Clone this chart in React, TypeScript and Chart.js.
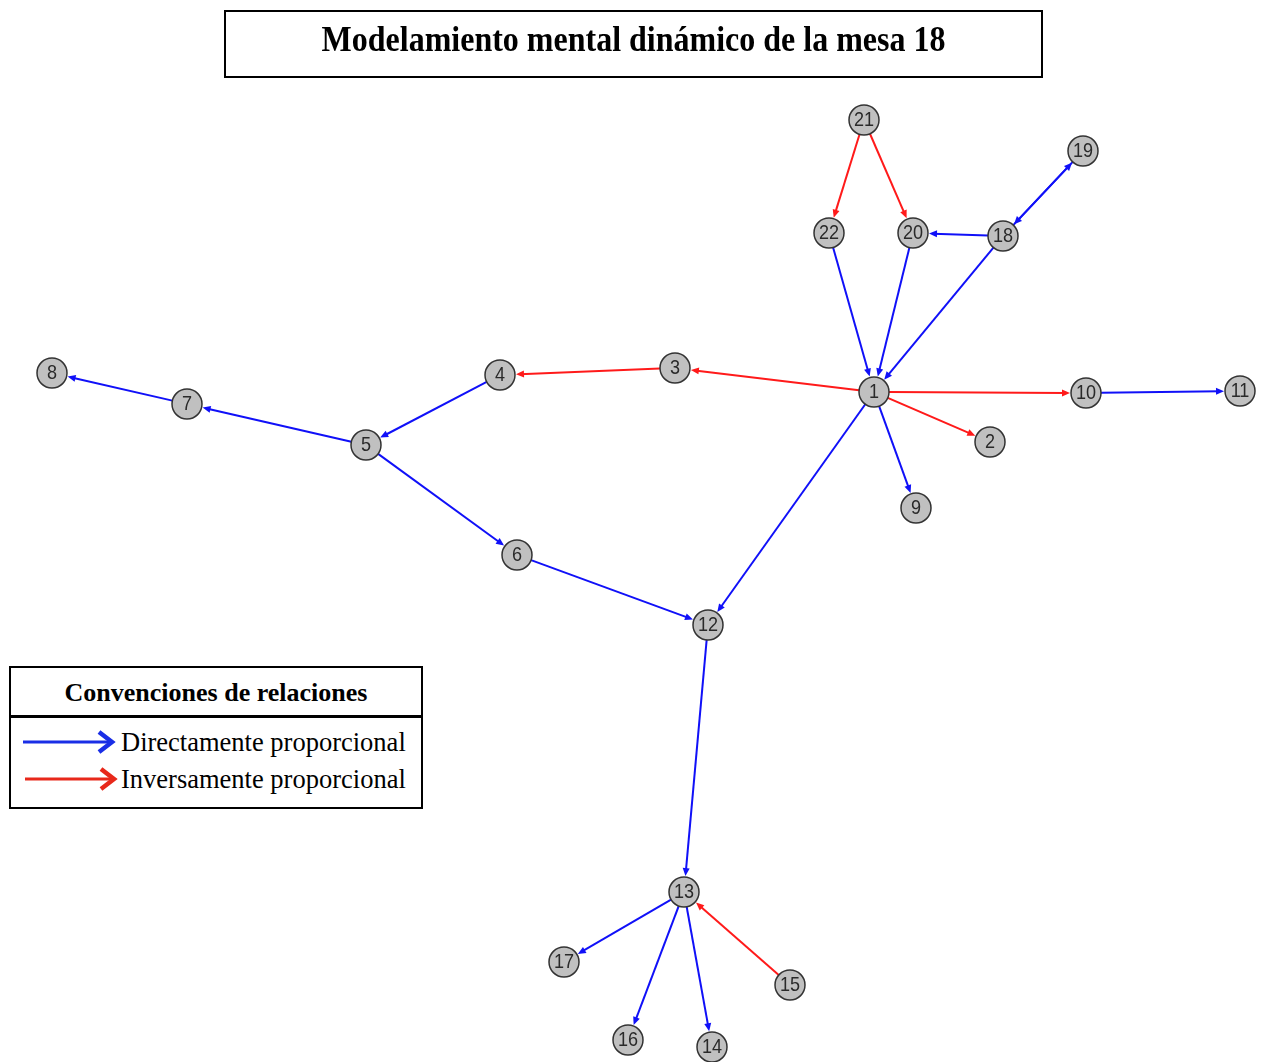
import React, { useEffect, useRef } from "react";
import { Chart, registerables } from "chart.js";
Chart.register(...registerables);

// Node layout (layout units)
const nodeLabels = ["1","2","3","4","5","6","7","8","9","10","11","12","13","14","15","16","17","18","19","20","21","22"];
const nodeX = [874, 990, 675, 500, 366, 517, 187, 52, 916, 1086, 1240, 708, 684, 712, 790, 628, 564, 1003, 1083, 913, 864, 829];
const nodeY = [392, 442, 368, 375, 445, 555, 404, 373, 508, 393, 391, 625, 892, 1047, 985, 1040, 962, 236, 151, 233, 120, 233];

// Edges: from -> to, kind: "d" = directamente, "i" = inversamente
const edgeFrom = ["22","20","18","18","18","19","1","1","10","4","5","7","5","6","12","13","13","13","21","21","1","3","1","1","15"];
const edgeTo   = ["1","1","1","20","19","18","9","12","11","5","7","8","6","12","13","17","16","14","22","20","3","4","10","2","13"];
const edgeKind = ["d","d","d","d","d","d","d","d","d","d","d","d","d","d","d","d","d","d","i","i","i","i","i","i","i"];

const legendLabels = ["Directamente proporcional", "Inversamente proporcional"];
const titleText = "Modelamiento mental dinámico de la mesa 18";
const legendTitle = "Convenciones de relaciones";

const EDGE_BLUE = "#1010f8";
const EDGE_RED = "#ff1a1a";
const NODE_R = 15;

const idx = (id: string) => nodeLabels.indexOf(id);

const edgePlugin = {
  id: "edges",
  beforeDatasetsDraw(chart: any) {
    const ctx = chart.ctx;
    const xs = chart.scales.x;
    const ys = chart.scales.y;
    ctx.save();
    for (let k = 0; k < edgeFrom.length; k++) {
      const a = idx(edgeFrom[k]);
      const b = idx(edgeTo[k]);
      const x1 = xs.getPixelForValue(nodeX[a]);
      const y1 = ys.getPixelForValue(nodeY[a]);
      const x2 = xs.getPixelForValue(nodeX[b]);
      const y2 = ys.getPixelForValue(nodeY[b]);
      const dx = x2 - x1, dy = y2 - y1;
      const len = Math.hypot(dx, dy);
      const ux = dx / len, uy = dy / len;
      const sx = x1 + ux * NODE_R, sy = y1 + uy * NODE_R;
      const tx = x2 - ux * (NODE_R + 1), ty = y2 - uy * (NODE_R + 1);
      const color = edgeKind[k] === "d" ? EDGE_BLUE : EDGE_RED;
      ctx.strokeStyle = color;
      ctx.fillStyle = color;
      ctx.lineWidth = 2;
      ctx.beginPath();
      ctx.moveTo(sx, sy);
      ctx.lineTo(tx - ux * 4, ty - uy * 4);
      ctx.stroke();
      const al = 8, aw = 3.5;
      const bx = tx - ux * al, by = ty - uy * al;
      ctx.beginPath();
      ctx.moveTo(tx, ty);
      ctx.lineTo(bx - uy * aw, by + ux * aw);
      ctx.lineTo(bx + uy * aw, by - ux * aw);
      ctx.closePath();
      ctx.fill();
    }
    ctx.restore();
  },
  afterDatasetsDraw(chart: any) {
    const ctx = chart.ctx;
    const xs = chart.scales.x;
    const ys = chart.scales.y;
    ctx.save();
    ctx.fillStyle = "#2a2a2a";
    ctx.font = "21px 'Liberation Sans', Arial, sans-serif";
    ctx.textAlign = "center";
    ctx.textBaseline = "middle";
    for (let i = 0; i < nodeLabels.length; i++) {
      const x = xs.getPixelForValue(nodeX[i]);
      const y = ys.getPixelForValue(nodeY[i]);
      ctx.save();
      ctx.translate(x, y);
      ctx.scale(0.86, 1);
      ctx.fillText(nodeLabels[i], 0, 0);
      ctx.restore();
    }
    ctx.restore();
  },
};

function Arrow({ color }: { color: string }) {
  return (
    <svg width={94} height={26} style={{ display: "block" }}>
      <line x1={0} y1={13} x2={88} y2={13} stroke={color} strokeWidth={3} />
      <polyline points="76,3 89,13 76,23" fill="none" stroke={color} strokeWidth={4.5} strokeLinejoin="miter" />
    </svg>
  );
}

export default function App() {
  const ref = useRef<HTMLCanvasElement | null>(null);
  useEffect(() => {
    if (!ref.current) return;
    const chart = new Chart(ref.current, {
      type: "scatter",
      data: {
        datasets: [
          {
            data: nodeX.map((x, i) => ({ x, y: nodeY[i] })),
            pointRadius: NODE_R,
            pointHoverRadius: NODE_R,
            backgroundColor: "#c0c0c0",
            borderColor: "#333333",
            borderWidth: 1.5,
            clip: false,
          },
        ],
      },
      options: {
        responsive: false,
        animation: false,
        layout: { padding: 0, autoPadding: false },
        plugins: { legend: { display: false }, tooltip: { enabled: false }, title: { display: false } },
        scales: {
          x: { type: "linear", min: 0, max: 1262, display: false },
          y: { type: "linear", min: 0, max: 1062, reverse: true, display: false },
        },
      },
      plugins: [edgePlugin],
    });
    return () => chart.destroy();
  }, []);

  const serif = "'Liberation Serif', 'Times New Roman', serif";
  return (
    <div style={{ position: "absolute", left: 0, top: 0, width: 1262, height: 1062, background: "#fff", overflow: "hidden" }}>
      <canvas ref={ref} width={1262} height={1062} style={{ position: "absolute", left: 0, top: 0 }} />
      <div
        style={{
          position: "absolute", left: 224, top: 10, width: 819, height: 68, boxSizing: "border-box",
          border: "2px solid #000", fontFamily: serif, fontWeight: "bold", fontSize: 32,
          display: "flex", justifyContent: "center", alignItems: "flex-start", paddingTop: 9, color: "#000",
        }}
      >
        <span style={{ display: "inline-block", transform: "scaleY(1.12)" }}>{titleText}</span>
      </div>
      <div
        style={{
          position: "absolute", left: 9, top: 666, width: 414, height: 143, boxSizing: "border-box",
          border: "2px solid #000", fontFamily: serif, color: "#000", background: "#fff",
        }}
      >
        <div style={{ height: 50, boxSizing: "border-box", borderBottom: "3px solid #000", display: "flex", alignItems: "center", justifyContent: "center", fontWeight: "bold", fontSize: 26, paddingTop: 2 }}>
          {legendTitle}
        </div>
        <div style={{ position: "absolute", left: 12, top: 61, display: "flex", alignItems: "center" }}>
          <Arrow color="#1a2ee6" />
          <span style={{ fontSize: 26.5, marginLeft: 4, lineHeight: "26px" }}>{legendLabels[0]}</span>
        </div>
        <div style={{ position: "absolute", left: 14, top: 98, display: "flex", alignItems: "center" }}>
          <Arrow color="#e8281a" />
          <span style={{ fontSize: 26.5, marginLeft: 2, lineHeight: "26px" }}>{legendLabels[1]}</span>
        </div>
      </div>
    </div>
  );
}
